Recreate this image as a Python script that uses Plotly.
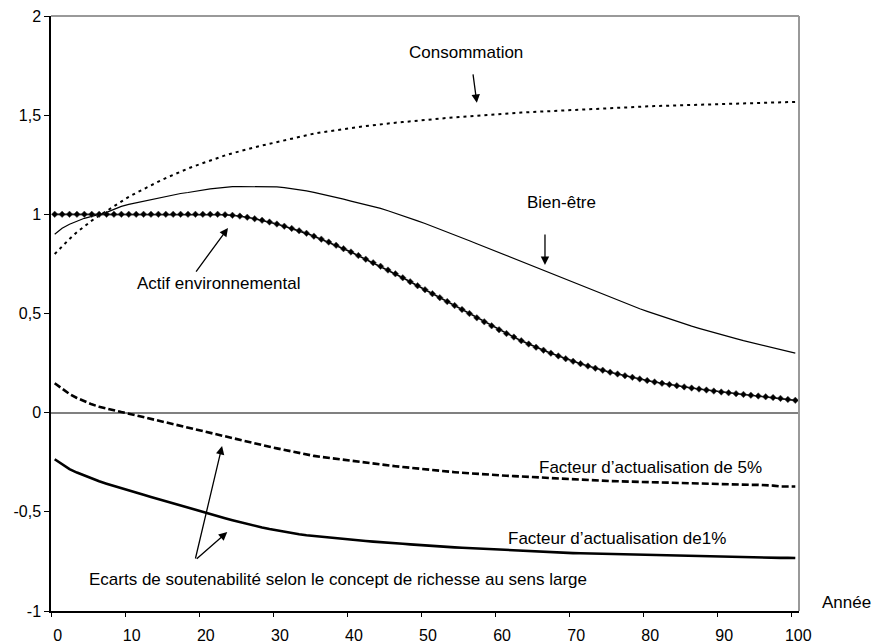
import plotly.graph_objects as go

years = list(range(0, 101))

consommation = [
    0.80, 0.84, 0.876, 0.91, 0.94, 0.968, 0.993, 1.017, 1.042, 1.066,
    1.088, 1.108, 1.128, 1.147, 1.165, 1.183, 1.20, 1.216, 1.231, 1.245,
    1.259, 1.272, 1.285, 1.297, 1.308, 1.319, 1.329, 1.338, 1.347, 1.356,
    1.365, 1.374, 1.383, 1.392, 1.40, 1.407, 1.413, 1.419, 1.425, 1.43,
    1.435, 1.44, 1.445, 1.45, 1.454, 1.458, 1.462, 1.465, 1.469, 1.472,
    1.476, 1.479, 1.482, 1.486, 1.489, 1.492, 1.495, 1.498, 1.50, 1.503,
    1.505, 1.508, 1.51, 1.513, 1.515, 1.517, 1.519, 1.521, 1.524, 1.526,
    1.528, 1.53, 1.532, 1.533, 1.535, 1.537, 1.538, 1.54, 1.541, 1.543,
    1.544, 1.546, 1.547, 1.548, 1.55, 1.551, 1.552, 1.553, 1.555, 1.556,
    1.557, 1.558, 1.559, 1.56, 1.561, 1.562, 1.563, 1.564, 1.565, 1.566,
    1.567,
]

bien_etre = [
    0.90, 0.93, 0.95, 0.965, 0.98, 0.99, 1.00, 1.01, 1.025, 1.04,
    1.05, 1.058, 1.065, 1.075, 1.082, 1.09, 1.097, 1.105, 1.11, 1.117,
    1.123, 1.128, 1.132, 1.136, 1.14, 1.14, 1.14, 1.14, 1.14, 1.14,
    1.138, 1.135, 1.13, 1.124, 1.118, 1.111, 1.103, 1.095, 1.086, 1.077,
    1.067, 1.058, 1.049, 1.04, 1.03, 1.018, 1.006, 0.993, 0.98, 0.967,
    0.954, 0.94, 0.926, 0.912, 0.897, 0.882, 0.867, 0.852, 0.837, 0.822,
    0.807, 0.792, 0.777, 0.762, 0.747, 0.732, 0.716, 0.70, 0.685, 0.67,
    0.655, 0.64, 0.625, 0.61, 0.595, 0.58, 0.566, 0.552, 0.538, 0.524,
    0.511, 0.498, 0.485, 0.472, 0.46, 0.448, 0.436, 0.425, 0.414, 0.403,
    0.393, 0.383, 0.373, 0.363, 0.354, 0.345, 0.336, 0.327, 0.318, 0.309,
    0.30,
]

actif = [
    1.0, 1.0, 1.0, 1.0, 1.0, 1.0, 1.0, 1.0, 1.0, 1.0,
    1.0, 1.0, 1.0, 1.0, 1.0, 1.0, 1.0, 1.0, 1.0, 1.0,
    1.0, 1.0, 1.0, 0.998, 0.995, 0.991, 0.985, 0.978, 0.970, 0.961,
    0.951, 0.940, 0.929, 0.917, 0.904, 0.890, 0.875, 0.860, 0.844, 0.827,
    0.810, 0.792, 0.774, 0.756, 0.738, 0.719, 0.700, 0.680, 0.660, 0.640,
    0.620, 0.600, 0.580, 0.560, 0.540, 0.520, 0.500, 0.478, 0.458, 0.438,
    0.418, 0.399, 0.381, 0.363, 0.346, 0.330, 0.315, 0.300, 0.286, 0.272,
    0.259, 0.247, 0.235, 0.224, 0.214, 0.204, 0.195, 0.186, 0.178, 0.170,
    0.162, 0.155, 0.148, 0.142, 0.136, 0.130, 0.124, 0.119, 0.114, 0.109,
    0.104, 0.100, 0.096, 0.092, 0.088, 0.084, 0.080, 0.076, 0.072, 0.067,
    0.062,
]

facteur_5 = [
    0.148, 0.12, 0.094, 0.074, 0.056, 0.042, 0.03, 0.02, 0.011, 0.003,
    -0.005, -0.014, -0.023, -0.032, -0.041, -0.05, -0.059, -0.068, -0.077, -0.086,
    -0.095, -0.104, -0.113, -0.122, -0.131, -0.14, -0.148, -0.156, -0.164, -0.172,
    -0.18, -0.188, -0.196, -0.204, -0.211, -0.218, -0.223, -0.228, -0.233, -0.238,
    -0.243, -0.248, -0.253, -0.257, -0.261, -0.265, -0.27, -0.274, -0.278, -0.282,
    -0.287, -0.291, -0.294, -0.297, -0.30, -0.303, -0.306, -0.309, -0.312, -0.314,
    -0.316, -0.318, -0.32, -0.322, -0.325, -0.327, -0.329, -0.331, -0.334, -0.336,
    -0.338, -0.339, -0.341, -0.342, -0.343, -0.345, -0.346, -0.347, -0.348, -0.349,
    -0.35, -0.351, -0.352, -0.353, -0.354, -0.355, -0.357, -0.359, -0.361, -0.361,
    -0.362, -0.362, -0.363, -0.363, -0.364, -0.364, -0.365, -0.368, -0.372, -0.371,
    -0.372,
]

facteur_1 = [
    -0.235, -0.262, -0.285, -0.302, -0.318, -0.333, -0.346, -0.358, -0.37, -0.381,
    -0.392, -0.403, -0.414, -0.425, -0.436, -0.447, -0.458, -0.469, -0.48, -0.491,
    -0.502, -0.512, -0.522, -0.532, -0.542, -0.552, -0.561, -0.57, -0.579, -0.587,
    -0.594, -0.601, -0.607, -0.613, -0.618, -0.622, -0.626, -0.63, -0.634, -0.638,
    -0.641, -0.644, -0.647, -0.65, -0.652, -0.655, -0.658, -0.661, -0.664, -0.667,
    -0.67, -0.673, -0.675, -0.677, -0.679, -0.681, -0.683, -0.685, -0.687, -0.689,
    -0.691, -0.693, -0.695, -0.697, -0.699, -0.701, -0.702, -0.704, -0.705, -0.707,
    -0.708, -0.709, -0.71, -0.711, -0.712, -0.713, -0.714, -0.715, -0.716, -0.717,
    -0.718, -0.719, -0.72, -0.721, -0.722, -0.723, -0.724, -0.725, -0.726, -0.727,
    -0.728, -0.729, -0.729, -0.73, -0.73, -0.731, -0.731, -0.732, -0.732, -0.732,
    -0.733,
]

x_tick_vals = [0, 10, 20, 30, 40, 50, 60, 70, 80, 90, 100]
x_tick_marks = [-0.5, 9.5, 19.5, 29.5, 39.5, 49.5, 59.5, 69.5, 79.5, 89.5, 99.5]
y_tick_vals = [-1, -0.5, 0, 0.5, 1, 1.5, 2]
y_tick_text = ["-1", "-0,5", "0", "0,5", "1", "1,5", "2"]
x_axis_title = "Année"

FONT = "Liberation Sans, Arial, sans-serif"

fig = go.Figure()

fig.add_trace(go.Scatter(x=years, y=consommation, mode="lines",
                         line=dict(color="black", width=2, dash="3px,4px"),
                         name="Consommation"))
fig.add_trace(go.Scatter(x=years, y=bien_etre, mode="lines",
                         line=dict(color="black", width=1.2),
                         name="Bien-être"))
fig.add_trace(go.Scatter(x=years, y=actif, mode="lines+markers",
                         line=dict(color="black", width=1.6),
                         marker=dict(symbol="diamond", size=5, color="black",
                                     line=dict(color="#444", width=0.5)),
                         name="Actif environnemental"))
fig.add_trace(go.Scatter(x=years, y=facteur_5, mode="lines",
                         line=dict(color="black", width=2.6, dash="7px,3px"),
                         name="Facteur d’actualisation de 5%"))
fig.add_trace(go.Scatter(x=years, y=facteur_1, mode="lines",
                         line=dict(color="black", width=2.6),
                         name="Facteur d’actualisation de1%"))

# second x-axis carrying only the tick marks (between categories)
fig.add_trace(go.Scatter(x=[], y=[], xaxis="x2", showlegend=False))

ann_font = dict(family=FONT, size=17, color="black")
texts = [
    ("Consommation", 55.5, 1.815),
    ("Bien-être", 68.4, 1.06),
    ("Actif environnemental", 22.05, 0.649),
    ("Facteur d’actualisation de 5%", 80.4, -0.276),
    ("Facteur d’actualisation de1%", 75.9, -0.632),
    ("Ecarts de soutenabilité selon le concept de richesse au sens large", 38.2, -0.841),
]
for t, xx, yy in texts:
    fig.add_annotation(x=xx, y=yy, text=t, showarrow=False, font=ann_font,
                       xanchor="center", yanchor="middle")

# axis title placed to the right of the x axis (outside the plot area)
fig.add_annotation(x=1.063, y=0.014, xref="paper", yref="paper",
                   text=x_axis_title, showarrow=False, font=ann_font,
                   xanchor="center", yanchor="middle")

arrows = [
    (57.0, 1.562, -4, -30),
    (66.2, 0.745, 0, -32),
    (23.4, 0.931, -33, 45),
    (22.6, -0.168, -27, 114),
    (23.3, -0.602, -32, 28),
]
for xx, yy, ax, ay in arrows:
    fig.add_annotation(x=xx, y=yy, ax=ax, ay=ay, text="", showarrow=True,
                       arrowhead=2, arrowsize=1.3, arrowwidth=1.3,
                       arrowcolor="black")

# grey top and right frame
fig.add_shape(type="line", xref="paper", yref="paper", x0=0, x1=1, y0=1, y1=1,
              line=dict(color="#999999", width=2))
fig.add_shape(type="line", xref="paper", yref="paper", x0=1, x1=1, y0=0, y1=1,
              line=dict(color="#999999", width=2))

fig.update_layout(
    width=875, height=643,
    margin=dict(l=51, r=76, t=16, b=32, autoexpand=False),
    paper_bgcolor="white", plot_bgcolor="white",
    showlegend=False,
    font=dict(family=FONT, size=16, color="black"),
    xaxis=dict(range=[-0.5, 100.5], tickmode="array", tickvals=x_tick_vals,
               ticktext=[str(v) for v in x_tick_vals], ticks="outside",
               ticklen=9, tickcolor="rgba(0,0,0,0)", automargin=False,
               ticklabelshift=3,
               showgrid=False, zeroline=False, showline=True,
               linecolor="black", linewidth=1.5,
               tickfont=dict(family=FONT, size=16, color="black")),
    xaxis2=dict(range=[-0.5, 100.5], overlaying="x", side="bottom",
                tickmode="array", tickvals=x_tick_marks, ticks="outside",
                ticklen=5, tickcolor="black", tickwidth=1.3, automargin=False,
                showticklabels=False, showgrid=False, zeroline=False,
                showline=False),
    yaxis=dict(range=[-1, 2], tickmode="array", tickvals=y_tick_vals,
               ticktext=y_tick_text, ticks="outside", ticklen=5,
               tickcolor="black", tickwidth=1.3, automargin=False,
               showgrid=False, zeroline=True, zerolinecolor="#808080",
               zerolinewidth=1.5, showline=True, linecolor="black",
               linewidth=1.5,
               tickfont=dict(family=FONT, size=16, color="black")),
)

fig.write_html(
    "out.html",
    config={"displayModeBar": False},
    post_script="document.body.style.margin='0';document.body.style.overflow='hidden';",
)
